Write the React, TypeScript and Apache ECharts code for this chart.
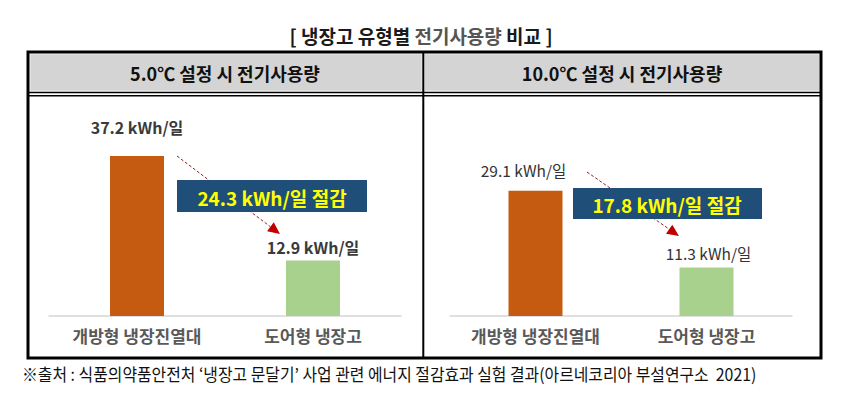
import React, { useEffect, useRef } from "react";
import * as echarts from "echarts";

const chartTitle = ["[ 냉장고 유형별 ", "전기사용량", " 비교 ]"];
const panelTitles = ["5.0℃ 설정 시 전기사용량", "10.0℃ 설정 시 전기사용량"];
const categories = ["개방형 냉장진열대", "도어형 냉장고"];
const usage5 = [37.2, 12.9];
const usage10 = [29.1, 11.3];
const unit = "kWh/일";
const sourceText =
  "※출처 : 식품의약품안전처 ‘냉장고 문달기’ 사업 관련 에너지 절감효과 실험 결과(아르네코리아 부설연구소  2021)";

const FONT = '"Noto Sans CJK KR", "Noto Sans", sans-serif';

function arrowEls(x1: number, y1: number, x2: number, y2: number) {
  const a = Math.atan2(y2 - y1, x2 - x1);
  const L = 12;
  const W = 5.5;
  const c = Math.cos(a);
  const s = Math.sin(a);
  const bx = x2 - L * c;
  const by = y2 - L * s;
  return [
    {
      type: "line",
      z: 10,
      shape: { x1, y1, x2: bx, y2: by },
      style: { stroke: "#9b1c1c", lineWidth: 1, lineDash: [3, 2] },
    },
    {
      type: "polygon",
      z: 10,
      shape: {
        points: [
          [x2, y2],
          [bx - W * s, by + W * c],
          [bx + W * s, by - W * c],
        ],
      },
      style: { fill: "#c00000" },
    },
  ];
}

function measure(text: string, font: string) {
  const cv = document.createElement("canvas");
  const ctx = cv.getContext("2d");
  if (!ctx) return text.length * 14;
  ctx.font = font;
  return ctx.measureText(text).width;
}

export default function App() {
  const ref = useRef<HTMLDivElement>(null);
  useEffect(() => {
    if (!ref.current) return;
    const chart = echarts.init(ref.current, null, { renderer: "svg" });

    const srcW = measure(sourceText, '17px "Noto Sans CJK KR"');
    const srcScale = 735 / srcW;

    const labelDist = [
      [21, 6],
      [13, 7],
    ];
    const labelOffX = [
      [0, 0],
      [-12, 2],
    ];
    const labelStyle = [
      { fontSize: 16, fontWeight: "bold", color: "#3a3a3a" },
      { fontSize: 15.5, fontWeight: "normal", color: "#333" },
    ];

    const mkSeries = (vals: number[], idx: number, color: string[]) => ({
      type: "bar",
      xAxisIndex: idx,
      yAxisIndex: idx,
      barWidth: 54,
      data: vals.map((v, i) => ({
        value: v,
        itemStyle: { color: color[i] },
        label: {
          show: true,
          position: "top",
          distance: labelDist[idx][i],
          offset: [labelOffX[idx][i], 0],
          formatter: `{c} ${unit}`,
          fontFamily: FONT,
          ...labelStyle[idx],
        },
      })),
    });

    const barColors = ["#c55a11", "#a9d18e"];

    const axisX = (idx: number) => ({
      type: "category",
      gridIndex: idx,
      data: categories,
      axisLine: { show: true, lineStyle: { color: "#d6d6d6", width: 1.5 } },
      axisTick: { show: false },
      axisLabel: {
        fontFamily: FONT,
        fontSize: 17,
        fontWeight: "bold",
        color: "#595959",
        margin: 11,
      },
    });
    const axisY = (idx: number) => ({
      type: "value",
      gridIndex: idx,
      min: 0,
      max: 40,
      show: false,
      splitLine: { show: false },
    });

    const save5 = (usage5[0] - usage5[1]).toFixed(1);
    const save10 = (usage10[0] - usage10[1]).toFixed(1);

    const headerText = (x: number, t: string) => ({
      type: "text",
      x,
      y: 73,
      style: {
        text: t,
        align: "center",
        verticalAlign: "middle",
        fontFamily: FONT,
        fontSize: 18,
        fontWeight: "bold",
        fill: "#111",
      },
    });

    const boxText = (x: number, y: number, t: string) => ({
      type: "text",
      z: 21,
      x,
      y,
      style: {
        text: t,
        align: "center",
        verticalAlign: "middle",
        fontFamily: FONT,
        fontSize: 19,
        fontWeight: "bold",
        fill: "#ffff00",
      },
    });

    const graphic: any[] = [
      {
        type: "text",
        x: 421,
        y: 35,
        style: {
          text: `{a|${chartTitle[0]}}{b|${chartTitle[1]}}{a|${chartTitle[2]}}`,
          align: "center",
          verticalAlign: "middle",
          rich: {
            a: { fontFamily: FONT, fontSize: 19, fontWeight: "bold", fill: "#1a1a1a" },
            b: { fontFamily: FONT, fontSize: 19, fontWeight: "bold", fill: "#555" },
          },
        },
      },
      {
        type: "rect",
        shape: { x: 30, y: 54, width: 392, height: 37 },
        style: { fill: "#d4d4d4", stroke: "#ececec", lineWidth: 1 },
      },
      {
        type: "rect",
        shape: { x: 424.5, y: 54, width: 395, height: 37 },
        style: { fill: "#d4d4d4", stroke: "#ececec", lineWidth: 1 },
      },
      headerText(225, panelTitles[0]),
      headerText(622, panelTitles[1]),
      {
        type: "line",
        shape: { x1: 28, y1: 92.5, x2: 821, y2: 92.5 },
        style: { stroke: "#000", lineWidth: 1.5 },
      },
      {
        type: "line",
        shape: { x1: 28, y1: 95.8, x2: 821, y2: 95.8 },
        style: { stroke: "#000", lineWidth: 1.5 },
      },
      {
        type: "line",
        shape: { x1: 423.3, y1: 52, x2: 423.3, y2: 358 },
        style: { stroke: "#000", lineWidth: 2 },
      },
      {
        type: "rect",
        shape: { x: 28, y: 52, width: 793, height: 306 },
        style: { fill: "none", stroke: "#000", lineWidth: 3 },
      },
      ...arrowEls(177, 156, 280, 234),
      ...arrowEls(587, 172, 679, 236),
      {
        type: "rect",
        z: 20,
        shape: { x: 177, y: 180, width: 190, height: 32 },
        style: { fill: "#1f4e79" },
      },
      boxText(272, 197, `${save5} ${unit} 절감`),
      {
        type: "rect",
        z: 20,
        shape: { x: 573, y: 188, width: 189, height: 31 },
        style: { fill: "#1f4e79" },
      },
      boxText(667, 204, `${save10} ${unit} 절감`),
      {
        type: "text",
        x: 22,
        y: 374,
        scaleX: srcScale,
        style: {
          text: sourceText,
          align: "left",
          verticalAlign: "middle",
          fontFamily: '"Noto Sans CJK KR"',
          fontSize: 17,
          fill: "#111",
        },
      },
    ];

    chart.setOption({
      animation: false,
      backgroundColor: "#ffffff",
      grid: [
        { left: 49, width: 352, top: 144, height: 172 },
        { left: 450, width: 342, top: 144, height: 172 },
      ],
      xAxis: [axisX(0), axisX(1)],
      yAxis: [axisY(0), axisY(1)],
      series: [mkSeries(usage5, 0, barColors), mkSeries(usage10, 1, barColors)],
      graphic,
    });

    return () => chart.dispose();
  }, []);

  return (
    <div
      ref={ref}
      style={{ position: "absolute", left: 0, top: 0, width: 844, height: 395 }}
    />
  );
}
